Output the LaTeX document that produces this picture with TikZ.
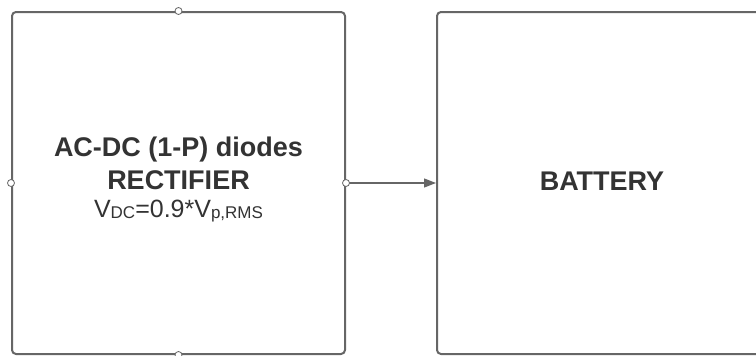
\documentclass[tikz,border=0pt]{standalone}
\usepackage{fontspec}
\setmainfont{Liberation Sans}
\usepackage{xcolor}
\usetikzlibrary{arrows.meta}

\definecolor{boxline}{RGB}{102,102,102}
\definecolor{boxtext}{RGB}{51,51,51}

\tikzset{
  blockbox/.style={draw=boxline, line width=2pt, rounded corners=4pt, fill=white,
    text=boxtext, align=center, inner sep=0pt},
  portdot/.style={circle, draw=boxline, line width=0.8pt, fill=white,
    minimum size=7pt, inner sep=0pt},
  flowarrow/.style={draw=boxline, line width=1.3pt,
    -{Triangle[length=12pt,width=9pt]}}
}

\begin{document}
\begin{tikzpicture}[x=1pt,y=1pt,yscale=-1,xscale=1]
    \useasboundingbox (0,0) rectangle (756,356);
    \clip (0,0) rectangle (756,356);

    % Blocks
    \node[blockbox, minimum width=333pt, minimum height=342pt] (rect) at (178.5,183) {};
    \node[blockbox, minimum width=340pt, minimum height=342pt, anchor=west] (batt) at (436,183) {};

    % Text Node
    \node[text=boxtext, align=center, font=\fontsize{27}{33}\selectfont\bfseries] (rtitle) at (178.5,163.5)
      {AC-DC (1-P) diodes\\RECTIFIER};
    % Text Node
    \node[text=boxtext, font=\fontsize{25}{28}\selectfont] (rform) at (178.5,211)
      {V\raisebox{-1pt}{\fontsize{17}{17}\selectfont DC}=0.9*V\raisebox{-1pt}{\fontsize{17}{17}\selectfont p,RMS}};
    % Text Node
    \node[text=boxtext, font=\fontsize{27}{30}\selectfont\bfseries] (btitle) at (602,181) {BATTERY};

    % Connector
    \draw[flowarrow] (rect.east) -- (batt.west);

    % Ports
    \node[portdot] (pn) at (rect.north) {};
    \node[portdot] (pw) at (rect.west) {};
    \node[portdot] (pe) at (rect.east) {};
    \node[portdot] (ps) at (rect.south) {};

\end{tikzpicture}
\end{document}
